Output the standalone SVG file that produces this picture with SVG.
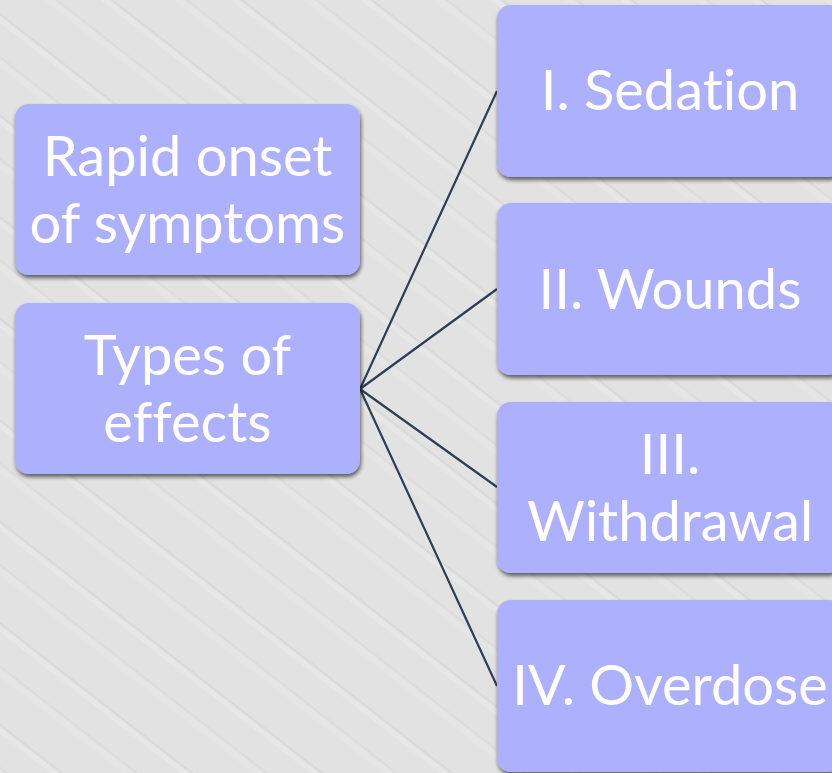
<svg xmlns="http://www.w3.org/2000/svg" width="832" height="773" viewBox="0 0 832 773">
<defs>
<style>
.box{fill:#adb0fd;filter:url(#sh)}
.t{fill:#ffffff;font-family:Lato,"Open Sans","Liberation Sans",sans-serif;font-size:56px;text-anchor:middle;font-variant-ligatures:none;font-feature-settings:"liga" 0}
.c{stroke:#2f3e55;stroke-width:2.2;fill:none}
</style>
<filter id="sh" x="-10%" y="-10%" width="120%" height="130%">
<feGaussianBlur in="SourceAlpha" stdDeviation="2"/>
<feOffset dx="1" dy="3" result="b"/>
<feComponentTransfer><feFuncA type="linear" slope="0.6"/></feComponentTransfer>
<feMerge><feMergeNode/><feMergeNode in="SourceGraphic"/></feMerge>
</filter>
<filter id="soft"><feGaussianBlur stdDeviation="1.5"/></filter>
<pattern id="bg" width="80" height="80" patternUnits="userSpaceOnUse" patternTransform="rotate(38)">
<rect width="80" height="80" fill="#e2e2e2"/>
<rect x="0" y="10" width="80" height="2" fill="#d4d4d4" opacity="0.6"/>
<rect x="0" y="13" width="80" height="5" fill="#eaeaea" opacity="0.7"/>
<rect x="0" y="44" width="80" height="2" fill="#d6d6d6" opacity="0.5"/>
<rect x="0" y="47" width="80" height="6" fill="#e8e8e8" opacity="0.6"/>
</pattern>
</defs>
<rect width="832" height="773" fill="url(#bg)"/>
<g id="connectors">
<line class="c" x1="360" y1="389" x2="497" y2="91"/>
<line class="c" x1="360" y1="389" x2="497" y2="289"/>
<line class="c" x1="360" y1="389" x2="497" y2="487"/>
<line class="c" x1="360" y1="389" x2="497" y2="686"/>
</g>
<g id="rapid-onset">
<rect class="box" x="15" y="104" width="345" height="171" rx="14"/>
<text class="t" x="187.5" y="176">Rapid onset</text>
<text class="t" x="187.5" y="243">of symptoms</text>
</g>
<g id="types-of-effects">
<rect class="box" x="15" y="303" width="345" height="171" rx="14"/>
<text class="t" x="187.5" y="375">Types of</text>
<text class="t" x="187.5" y="442">effects</text>
</g>
<g id="sedation">
<rect class="box" x="497" y="5" width="346" height="172" rx="14"/>
<text class="t" x="670" y="110">I. Sedation</text>
</g>
<g id="wounds">
<rect class="box" x="497" y="203" width="346" height="172" rx="14"/>
<text class="t" x="670" y="309">II. Wounds</text>
</g>
<g id="withdrawal">
<rect class="box" x="497" y="402" width="346" height="171" rx="14"/>
<text class="t" x="670" y="474">III.</text>
<text class="t" x="670" y="541">Withdrawal</text>
</g>
<g id="overdose">
<rect class="box" x="497" y="600" width="346" height="172" rx="14"/>
<text class="t" x="670" y="705">IV. Overdose</text>
</g>
</svg>
